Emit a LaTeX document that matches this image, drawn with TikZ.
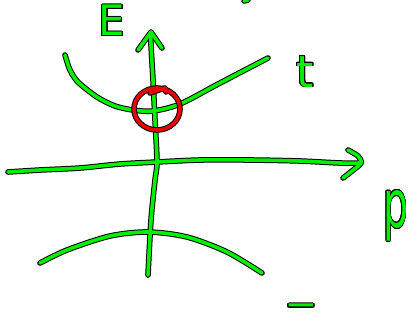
\documentclass[tikz,border=0pt]{standalone}
\usepackage{fontspec}
\setmainfont{DejaVu Sans}
\usepackage{contour}
\contourlength{0.9pt}
\definecolor{lgreen}{RGB}{0,240,0}
\definecolor{lred}{RGB}{235,0,0}
\tikzset{
  outl/.style={draw=black, line width=5.6pt, line cap=round, line join=round},
  grn/.style={draw=lgreen, line width=3.6pt, line cap=round, line join=round},
  rd/.style={draw=lred, line width=3.6pt, line cap=round, line join=round},
  lbl/.style={text=lgreen, inner sep=0pt, font=\fontsize{42}{42}\selectfont}
}
\newcommand\pVert{plot[smooth] coordinates {(148,275) (151,220) (155,180) (157,162) (155,120) (153,80) (151,45) (151,33)}}
\newcommand\pVarr{(138,50) -- (151,32) -- (162,48)}
\newcommand\pHorz{plot[smooth] coordinates {(8,172) (40,170) (80,168) (120,164) (157,162) (200,160) (250,160) (300,161) (340,163) (360,163)}}
\newcommand\pHarr{plot[smooth] coordinates {(348,150) (358,156) (361,163) (352,171) (343,178)}}
\newcommand\pUp{plot[smooth] coordinates {(65,55) (70,70) (78,82) (97,97) (115,106) (133,110) (153,111) (180,104) (220,83) (268,58)}}
\newcommand\pLow{plot[smooth] coordinates {(40,263) (67,250) (110,236) (148,232) (187,237) (227,252) (262,273)}}
\newcommand\pDot{(244,1) -- (248,0)}
\newcommand\pCirc{(157,109) ellipse [x radius=23, y radius=21]}
\newcommand\pHook{(150,93) -- (165,88) -- (166,92)}
\begin{document}
\begin{tikzpicture}[x=1pt,y=-1pt]
\useasboundingbox[fill=white] (0,0) rectangle (411,322);
% outlines
\foreach \p in {\pVert,\pVarr,\pHorz,\pHarr,\pUp,\pLow,\pDot}{\draw[outl] \p;}
\foreach \p in {\pVert,\pVarr,\pHorz,\pHarr,\pUp,\pLow,\pDot}{\draw[grn] \p;}
% red circle
\draw[outl] \pCirc;
\draw[outl] \pHook;
\draw[rd] \pCirc;
\draw[rd] \pHook;
% labels
\node[lbl] (E) at (112,21) {\contour{black}{E}};
\node[lbl, font=\fontsize{44}{44}\selectfont] (t) at (305,72) {\contour{black}{t}};
\node[lbl, font=\fontsize{66}{66}\selectfont] (p) at (396,216) {\scalebox{0.6}[1]{\contour{black}{p}}};
\node[lbl, font=\bfseries\fontsize{26}{26}\selectfont] (m) at (301,309.5) {\scalebox{1.5}[1]{\contour{black}{−}}};
\end{tikzpicture}
\end{document}
